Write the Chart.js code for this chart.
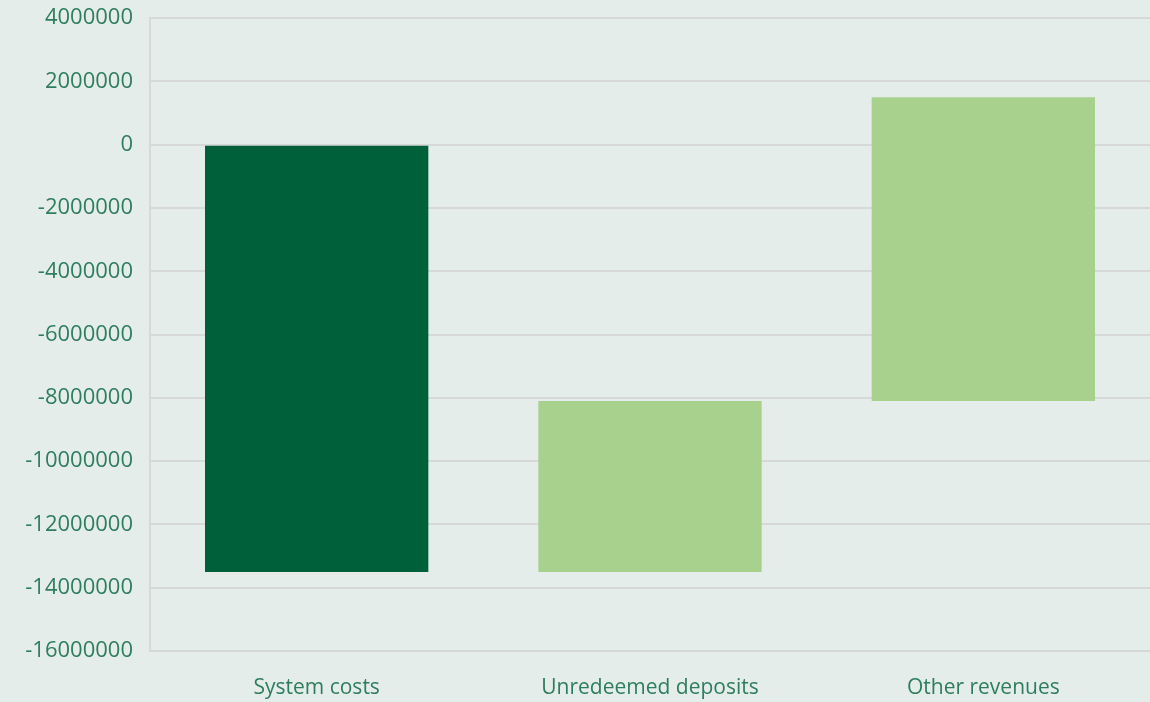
<!DOCTYPE html>
<html>
<head>
<meta charset="utf-8">
<script src="https://cdn.jsdelivr.net/npm/chart.js@4/dist/chart.umd.min.js"></script>
<style>
  html, body { margin: 0; padding: 0; background: #e4edea; overflow: hidden; }
  #wrap { width: 1150px; height: 714px; margin-top: -12px; }
</style>
</head>
<body>
<div id="wrap"><canvas id="chartArea"></canvas></div>
<script>
// waterfall steps: start and end of each bar
var categories = ['System costs', 'Unredeemed deposits', 'Other revenues'];
var barStarts = [0, -13500000, -8100000];
var barEnds = [-13500000, -8100000, 1500000];
var barColors = ['#00603a', '#a9d18e', '#a9d18e'];
var tickLabels = [4000000, 2000000, 0, -2000000, -4000000, -6000000, -8000000,
                  -10000000, -12000000, -14000000, -16000000];

var labelColor = '#2e7d5f';
var gridColor = '#d6d9d8';

var floating = categories.map(function(c, i) {
    return [barStarts[i], barEnds[i]];
});

var config = {
    type: 'bar',
    data: {
        labels: categories,
        datasets: [{
            data: floating,
            backgroundColor: barColors,
            borderWidth: 0,
            categoryPercentage: 0.67,
            barPercentage: 1
        }]
    },
    options: {
        responsive: true,
        maintainAspectRatio: false,
        animation: false,
        layout: { padding: 0 },
        plugins: {
            legend: { display: false },
            tooltip: { enabled: false }
        },
        scales: {
            x: {
                afterFit: function(axis) { axis.height = 51; },
                grid: { display: false, drawTicks: false },
                border: { display: true, color: gridColor, width: 2 },
                ticks: {
                    color: labelColor,
                    font: { family: 'Open Sans', size: 21 },
                    padding: 24
                }
            },
            y: {
                min: -16000000,
                max: 4000000,
                afterBuildTicks: function(axis) {
                    axis.ticks = tickLabels.map(function(v) { return { value: v }; });
                },
                afterFit: function(axis) { axis.width = 150; },
                grid: { color: gridColor, lineWidth: 2, drawTicks: false },
                border: { display: true, color: gridColor, width: 2 },
                ticks: {
                    color: labelColor,
                    font: { family: 'Open Sans', size: 22 },
                    padding: 17,
                    callback: function(v) { return String(v); }
                }
            }
        }
    }
};

var ctx = document.getElementById('chartArea').getContext('2d');
window.myWaterfall = new Chart(ctx, config);
</script>
</body>
</html>
